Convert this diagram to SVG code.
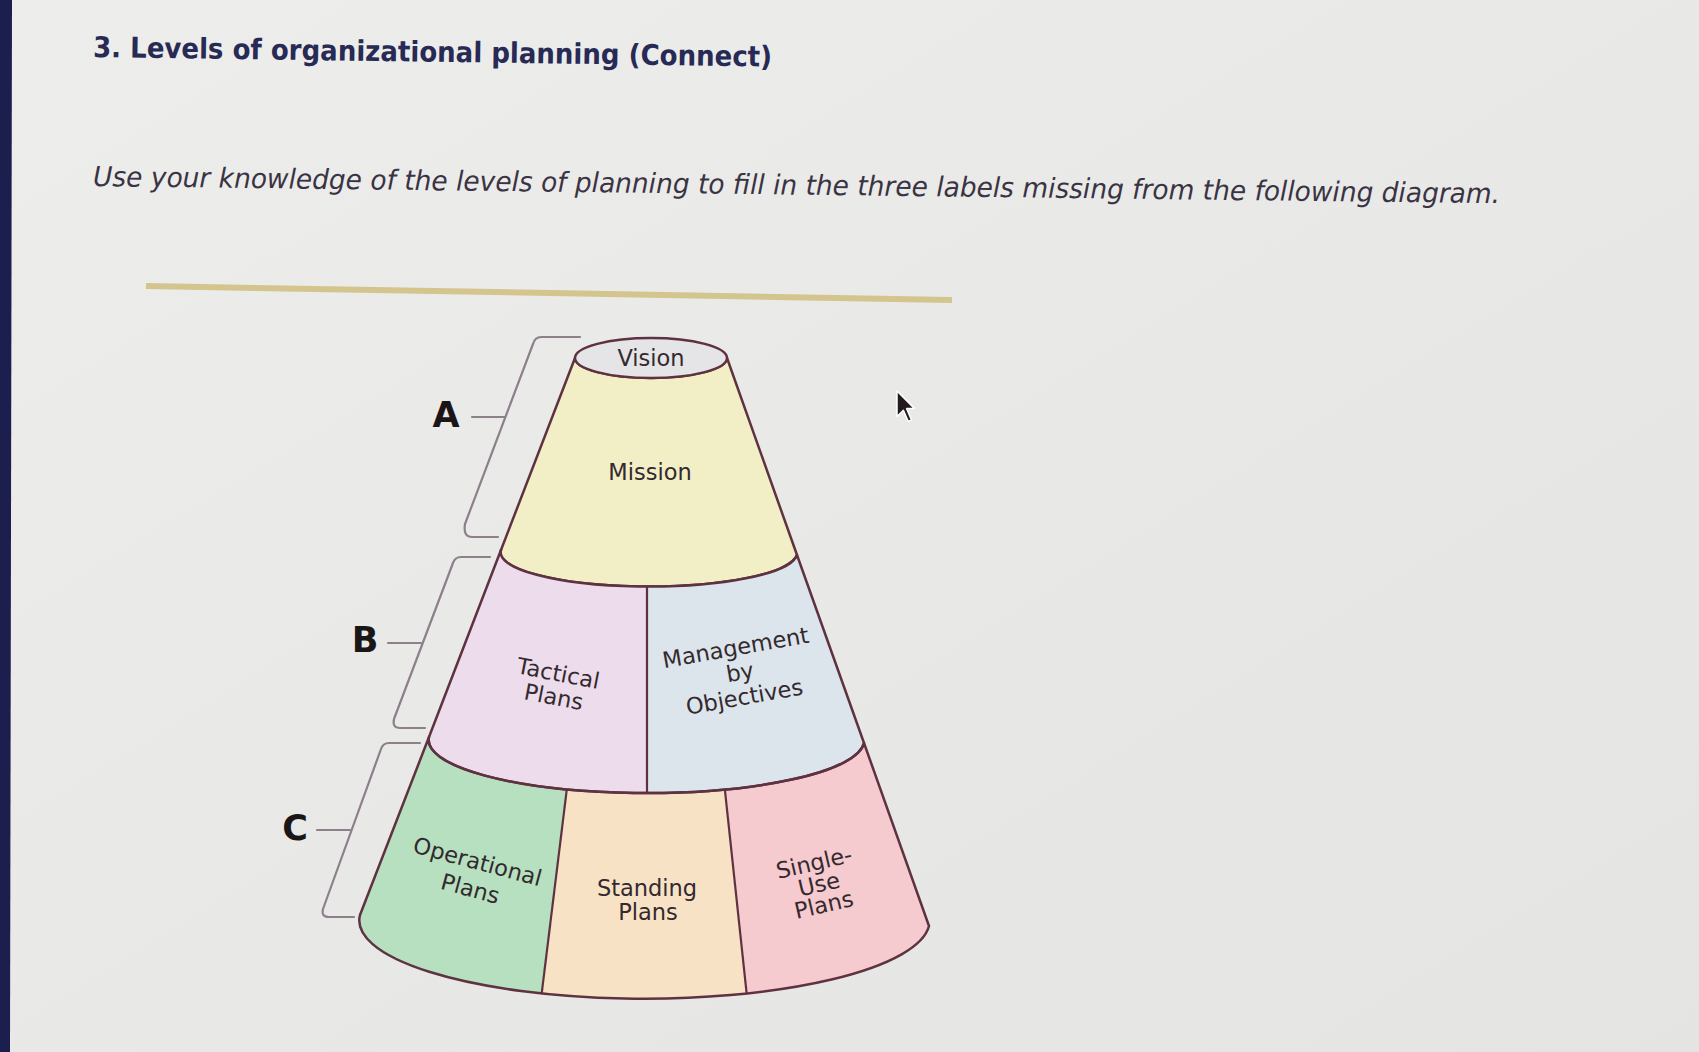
<svg xmlns="http://www.w3.org/2000/svg" width="1699" height="1052" viewBox="0 0 1699 1052">
  <defs>
    <linearGradient id="bg" x1="0" y1="0" x2="1" y2="1">
      <stop offset="0" stop-color="#ededeb"/>
      <stop offset="1" stop-color="#e4e4e2"/>
    </linearGradient>
    <clipPath id="clipB"><path d="M501,550 A148,34 0 0 0 797,555 L864,743 A217.5,53 0 0 1 429,737 Z"/></clipPath>
    <clipPath id="clipC"><path d="M429,737 A217.5,53 0 0 0 864,743 L929,926 A284.5,78 0 0 1 360,915 Z"/></clipPath>
    <style>
      .band { stroke: #5e3240; stroke-width: 2.5; stroke-linejoin: round; }
      .div { stroke: #5e3240; stroke-width: 2.2; fill: none; }
      .lbl { font-family: "DejaVu Sans", Verdana, sans-serif; font-size: 22.5px; fill: #33292e; text-anchor: middle; }
      .big { font-family: "DejaVu Sans", Verdana, sans-serif; font-size: 35px; font-weight: bold; fill: #1a1618; text-anchor: middle; }
      .brk { stroke: #8c808a; stroke-width: 2.2; fill: none; stroke-linecap: round; stroke-linejoin: round; }
    </style>
  </defs>

  <rect width="1699" height="1052" fill="url(#bg)"/>
  <polygon points="0,0 12,0 10,1052 0,1052" fill="#1c1f4d"/>

  <g id="header">
    <text x="93" y="57" transform="rotate(0.8 93 57)" textLength="679" lengthAdjust="spacingAndGlyphs" font-family="DejaVu Sans, Verdana, sans-serif" font-size="28.5" font-weight="bold" fill="#272a55">3. Levels of organizational planning (Connect)</text>
    <text x="93" y="186" transform="rotate(0.7 93 186)" textLength="1407" lengthAdjust="spacingAndGlyphs" font-family="DejaVu Sans, Verdana, sans-serif" font-size="27.5" font-style="italic" fill="#3a3344">Use your knowledge of the levels of planning to fill in the three labels missing from the following diagram.</text>
    <line x1="146" y1="286" x2="952" y2="300" stroke="#d3c58d" stroke-width="6"/>
  </g>

  <g id="mission">
    <path class="band" fill="#f2eec6" d="M575,358 A76,20 0 0 0 727,358 L797,555 A148,34 0 0 1 501,550 Z"/>
    <text class="lbl" x="650" y="480" font-size="23.5">Mission</text>
  </g>

  <g id="vision">
    <ellipse class="band" cx="651" cy="358" rx="76" ry="20" fill="#e5e4e6"/>
    <text class="lbl" x="651" y="366" font-size="23.5">Vision</text>
  </g>

  <g id="tactical">
    <g clip-path="url(#clipB)">
      <rect x="380" y="520" width="267" height="300" fill="#ecdcec"/>
    </g>
    <text class="lbl" font-size="21.5" transform="rotate(11 556 685)"><tspan x="556" y="681">Tactical</tspan><tspan x="556" y="705">Plans</tspan></text>
  </g>
  <g id="mbo">
    <g clip-path="url(#clipB)">
      <rect x="647" y="520" width="260" height="300" fill="#dce4ec"/>
    </g>
    <text class="lbl" transform="rotate(-10 740 672)"><tspan x="740" y="655">Management</tspan><tspan x="740" y="680">by</tspan><tspan x="740" y="705">Objectives</tspan></text>
  </g>

  <g id="operational">
    <g clip-path="url(#clipC)">
      <polygon points="0,700 577.8,700 534.5,1052 0,1052" fill="#b6e0bf"/>
    </g>
    <text class="lbl" transform="rotate(15 474 875)"><tspan x="474" y="869">Operational</tspan><tspan x="474" y="897">Plans</tspan></text>
  </g>
  <g id="standing">
    <g clip-path="url(#clipC)">
      <polygon points="577.8,700 715.3,700 752.9,1052 534.5,1052" fill="#f7e2c6"/>
    </g>
    <text class="lbl"><tspan x="647" y="896">Standing</tspan><tspan x="648" y="920">Plans</tspan></text>
  </g>
  <g id="single-use">
    <g clip-path="url(#clipC)">
      <polygon points="715.3,700 1699,700 1699,1052 752.9,1052" fill="#f5cbcf"/>
    </g>
    <text class="lbl" transform="rotate(-13 819 884)"><tspan x="819" y="870">Single-</tspan><tspan x="819" y="892">Use</tspan><tspan x="819" y="913">Plans</tspan></text>
  </g>

  <g id="outlines">
    <path class="band" fill="none" d="M501,550 A148,34 0 0 0 797,555 L864,743 A217.5,53 0 0 1 429,737 Z"/>
    <path class="band" fill="none" d="M429,737 A217.5,53 0 0 0 864,743 L929,926 A284.5,78 0 0 1 360,915 Z"/>
    <g clip-path="url(#clipB)"><line class="div" x1="647" y1="560" x2="647" y2="820"/></g>
    <g clip-path="url(#clipC)">
      <line class="div" x1="577.8" y1="700" x2="534.5" y2="1052"/>
      <line class="div" x1="715.3" y1="700" x2="752.9" y2="1052"/>
    </g>
  </g>

  <g id="label-A"><text class="big" x="446" y="427">A</text></g>
  <g id="label-B"><text class="big" x="365" y="652">B</text></g>
  <g id="label-C"><text class="big" x="295" y="840">C</text></g>

  <g id="connectors">
    <path class="brk" d="M580,337 H541 Q535,337 533,344 L465,524 Q463,537 472,537 H498"/>
    <path class="brk" d="M472,417 H505"/>
    <path class="brk" d="M490,557 H461 Q455,557 453,563 L394,719 Q392,728 400,728 H425"/>
    <path class="brk" d="M388,643 H421"/>
    <path class="brk" d="M420,743 H389 Q383,743 381,749 L323,909 Q321,917 329,917 H354"/>
    <path class="brk" d="M317,830 H350"/>
  </g>

  <g id="cursor">
    <polygon points="897,391 897,416.6 903.4,410.2 908.2,421.4 911.4,419.8 906.6,408.6 914.6,408.6" fill="#231a1d" stroke="#ffffff" stroke-width="1.5" stroke-linejoin="round"/>
  </g>
</svg>
